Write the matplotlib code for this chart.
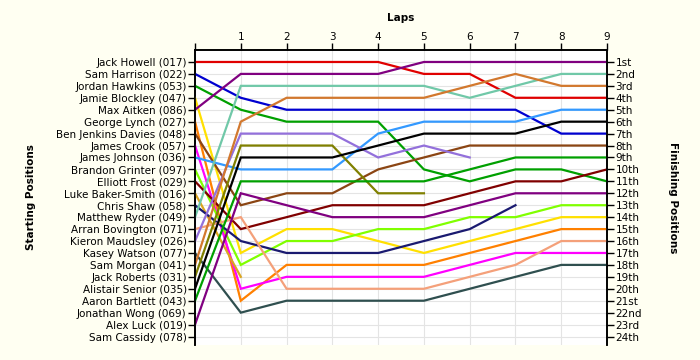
import matplotlib
matplotlib.use("Agg")
import matplotlib.pyplot as plt

# starting grid, top to bottom
drivers = ["Jack Howell (017)", "Sam Harrison (022)", "Jordan Hawkins (053)",
           "Jamie Blockley (047)", "Max Aitken (086)", "George Lynch (027)",
           "Ben Jenkins Davies (048)", "James Crook (057)", "James Johnson (036)",
           "Brandon Grinter (097)", "Elliott Frost (029)", "Luke Baker-Smith (016)",
           "Chris Shaw (058)", "Matthew Ryder (049)", "Arran Bovington (071)",
           "Kieron Maudsley (026)", "Kasey Watson (077)", "Sam Morgan (041)",
           "Jack Roberts (031)", "Alistair Senior (035)", "Aaron Bartlett (043)",
           "Jonathan Wong (069)", "Alex Luck (019)", "Sam Cassidy (078)"]

# position at the end of each lap (1..9), shorter list = retired
lap_positions = [
    [1, 1, 1, 1, 2, 2, 4, 4, 4],
    [4, 5, 5, 5, 5, 5, 5, 7, 7],
    [5, 6, 6, 6, 10, 11, 10, 10, 11],
    [17, 15, 15, 16, 17, 16, 15, 14, 14],
    [2, 2, 2, 2, 1, 1, 1, 1, 1],
    [21, 18, 18, 18, 18, 17, 16, 15, 15],
    [13, 12, 12, 10, 9, 8, 8, 8, 8],
    [20, 19, 19, 19, 19, 18, 17, 17, 17],
    [10, 10, 10, 7, 6, 6, 6, 5, 5],
    [18, 16, 16, 15, 15, 14, 14, 13, 13],
    [15, 14, 13, 13, 13, 12, 11, 11, 10],
    [19],
    [16, 17, 17, 17, 16, 15, 13],
    [3, 3, 3, 3, 3, 4, 3, 2, 2],
    [14, 20, 20, 20, 20, 19, 18, 16, 16],
    [7, 7, 7, 9, 8, 9],
    [22, 21, 21, 21, 21, 20, 19, 18, 18],
    [6, 4, 4, 4, 4, 3, 2, 3, 3],
    [8, 8, 8, 12, 12],
    [9, 9, 9, 8, 7, 7, 7, 6, 6],
    [11, 11, 11, 11, 11, 10, 9, 9, 9],
    [],
    [12, 13, 14, 14, 14, 13, 12, 12, 12],
    [],
]

colors = ["#e00000", "#0000d0", "#00a000", "#ffe000", "#800080", "#ff8000",
          "#8b4513", "#ff00ff", "#3399ff", "#80ff00", "#800000", "#daa520",
          "#1a1a70", "#70c8a8", "#f4a07a", "#9370db", "#2f4f4f", "#d2782e",
          "#808000", "#000000", "#00a000", "#888888", "#800080", "#888888"]

finish_labels = ["1st", "2nd", "3rd", "4th", "5th", "6th", "7th", "8th", "9th",
                 "10th", "11th", "12th", "13th", "14th", "15th", "16th", "17th",
                 "18th", "19th", "20th", "21st", "22nd", "23rd", "24th"]

laps = list(range(0, 10))

fig = plt.figure(figsize=(7, 3.6), dpi=100, facecolor="#fffff2")
ax = fig.add_axes([0.2786, 0.042, 0.5886, 0.819])
ax.set_facecolor("#ffffff")

for i, name in enumerate(drivers):
    pos = lap_positions[i]
    if not pos:
        continue
    ys = [i + 1] + pos
    ax.plot(laps[:len(ys)], ys, color=colors[i], lw=1.6, solid_joinstyle="miter", zorder=3)

ax.set_xlim(0, 9)
ax.set_ylim(24.7, 0)
fs = 7.5

ax.xaxis.tick_top()
ax.set_xticks(laps)
ax.set_xticklabels([""] + [str(l) for l in laps[1:]], fontsize=fs)
ax.set_xlabel("Laps", fontsize=fs, fontweight="bold", labelpad=8)
ax.xaxis.set_label_position("top")

ax.set_yticks(range(1, 25))
ax.set_yticklabels(drivers, fontsize=fs)
ax.set_ylabel("Starting Positions", fontsize=fs, fontweight="bold", labelpad=15)

ax2 = ax.twinx()
ax2.set_ylim(ax.get_ylim())
ax2.set_yticks(range(1, 25))
ax2.set_yticklabels(finish_labels, fontsize=fs)
ax2.set_ylabel("Finishing Positions", fontsize=fs, fontweight="bold", rotation=-90, labelpad=26)

for a in (ax, ax2):
    a.tick_params(length=5, width=1, pad=1, colors="black")
    a.spines["bottom"].set_visible(False)
    for s in ("top", "left", "right"):
        a.spines[s].set_linewidth(1.2)

ax.grid(True, color="#e4e4e4", lw=0.8, zorder=0)
ax.set_axisbelow(True)

fig.savefig("out.png", dpi=100, facecolor=fig.get_facecolor())
